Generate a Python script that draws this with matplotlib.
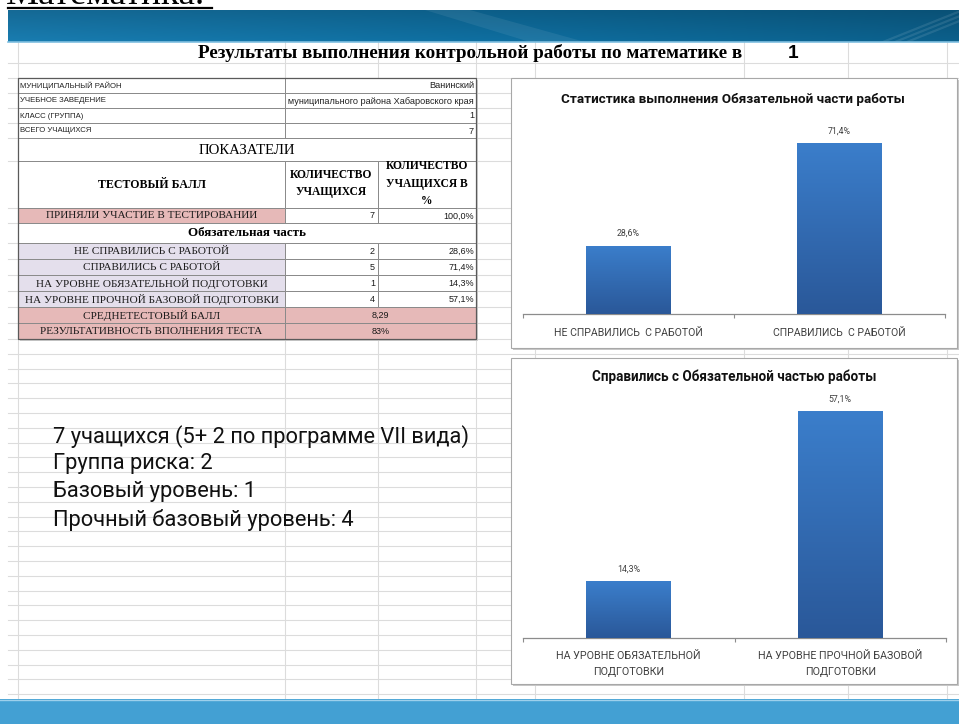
import numpy as np
import matplotlib
matplotlib.use('Agg')
import matplotlib.pyplot as plt
from matplotlib.patches import Rectangle, Polygon
from matplotlib.transforms import Bbox, TransformedBbox
from matplotlib.colors import LinearSegmentedColormap, to_rgb

# ---------------- data ----------------
slide_heading = "Математика."
report_title = "Результаты выполнения контрольной работы по математике в"
report_grade = "1"

info_labels = ["МУНИЦИПАЛЬНЫЙ РАЙОН", "УЧЕБНОЕ ЗАВЕДЕНИЕ", "КЛАСС (ГРУППА)", "ВСЕГО УЧАЩИХСЯ"]
info_values = ["Ванинский", "Ванинского муниципального района Хабаровского края", "1", "7"]

indicators_label = "ПОКАЗАТЕЛИ"
header_score = "ТЕСТОВЫЙ БАЛЛ"
header_count = "КОЛИЧЕСТВО\nУЧАЩИХСЯ"
header_pct = "КОЛИЧЕСТВО\nУЧАЩИХСЯ В\n%"

participated_label = "ПРИНЯЛИ УЧАСТИЕ В ТЕСТИРОВАНИИ"
participated_count = 7
participated_pct = 100.0

section_label = "Обязательная часть"
part_labels = ["НЕ СПРАВИЛИСЬ С РАБОТОЙ", "СПРАВИЛИСЬ С РАБОТОЙ",
               "НА УРОВНЕ ОБЯЗАТЕЛЬНОЙ ПОДГОТОВКИ", "НА УРОВНЕ ПРОЧНОЙ БАЗОВОЙ ПОДГОТОВКИ"]
part_counts = [2, 5, 1, 4]
part_pcts = [28.6, 71.4, 14.3, 57.1]

avg_label = "СРЕДНЕТЕСТОВЫЙ БАЛЛ"
avg_value = "8,29"
eff_label = "РЕЗУЛЬТАТИВНОСТЬ ВПОЛНЕНИЯ ТЕСТА"
eff_value = "83%"

chart1_title = "Статистика выполнения Обязательной части работы"
chart1_cats = ["НЕ СПРАВИЛИСЬ  С РАБОТОЙ", "СПРАВИЛИСЬ  С РАБОТОЙ"]
chart1_vals = [28.6, 71.4]

chart2_title = "Справились с Обязательной частью работы"
chart2_cats = ["НА УРОВНЕ ОБЯЗАТЕЛЬНОЙ\nПОДГОТОВКИ", "НА УРОВНЕ ПРОЧНОЙ БАЗОВОЙ\nПОДГОТОВКИ"]
chart2_vals = [14.3, 57.1]

notes = ["7 учащихся (5+ 2 по программе VII вида)", "Группа риска: 2",
         "Базовый уровень: 1", "Прочный базовый уровень: 4"]


def pct(v):
    return f"{v:.1f}%".replace('.', ',')


# ---------------- figure ----------------
W, H = 959, 724
fig = plt.figure(figsize=(W / 100, H / 100), dpi=100)
fig.patch.set_facecolor('white')
bg = fig.add_axes([0, 0, 1, 1])
bg.set_xlim(0, W)
bg.set_ylim(H, 0)
bg.axis('off')
renderer = fig.canvas.get_renderer()

SERIF = ['Liberation Serif', 'DejaVu Serif']
SANS = ['Liberation Sans', 'DejaVu Sans']
CAL = ['Roboto', 'Open Sans', 'DejaVu Sans']


def fit(t, width):
    bb = t.get_window_extent(renderer)
    t.set_fontsize(t.get_fontsize() * width / bb.width)
    return t.get_fontsize()


# spreadsheet grid
vlines = [18, 285, 378, 476, 535, 744, 848, 947]
hlines = [63, 78, 93, 108, 123, 138, 161, 208, 223, 243, 259, 275, 291, 307, 323, 339]
y = 339
while y < 699:
    y += 14.8
    if y < 699:
        hlines.append(y)
for x in vlines:
    bg.plot([x, x], [42, 699], color='#dcdcdc', lw=0.8, zorder=0)
for yy in hlines:
    bg.plot([8, W], [yy, yy], color='#dcdcdc', lw=0.8, zorder=0)

# top band
nx, ny = 400, 40
tx = np.linspace(0, 1, nx)[None, :]
ty = np.linspace(0, 1, ny)[:, None]
cL, cM, cR = np.array(to_rgb('#1878aa')), np.array(to_rgb('#0e6b9b')), np.array(to_rgb('#0b5c86'))
col = np.where((tx < 0.5)[..., None], cL + (cM - cL) * (tx / 0.5)[..., None],
               cM + (cR - cM) * ((tx - 0.5) / 0.5)[..., None])
col = np.broadcast_to(col, (ny, nx, 3)).copy()
col = col * (0.88 + 0.16 * ty)[..., None]
col = np.clip(col, 0, 1)
bg.imshow(col, extent=(8, W, 42, 10), aspect='auto', zorder=2, interpolation='bilinear')
bg.add_patch(Polygon([[425, 10], [470, 10], [585, 42], [530, 42]], closed=True,
                     facecolor='white', alpha=0.07, lw=0, zorder=3))
for dx in [0, 12, 24]:
    bg.add_patch(Polygon([[880 + dx, 42], [886 + dx, 42], [966 + dx, 10], [960 + dx, 10]], closed=True,
                         facecolor='white', alpha=0.10, lw=0, zorder=3))
bg.plot([8, W], [41.5, 41.5], color='#7fbfe0', lw=1.2, zorder=4)

# bottom band
bg.add_patch(Rectangle((0, 699), W, 25, facecolor='#43a0d3', lw=0, zorder=2))
bg.plot([0, W], [699.5, 699.5], color='#9dd0ec', lw=1.0, zorder=3)

# heading (cut off at the top edge, as in the slide)
bg.set_xlim(0, W)
bg.set_ylim(H, 0)
th = bg.text(6, 4, slide_heading, family=SERIF, fontsize=20, va='baseline', ha='left', color='black', zorder=5)
fit(th, 200)
bg.plot([8, 212], [7.5, 7.5], color='black', lw=1.6, zorder=5)

# report title
tt = bg.text(198, 53, report_title, family=SERIF, weight='bold', fontsize=11, va='center', ha='left', zorder=5)
fit(tt, 542)
bg.text(793, 53, report_grade, family=SANS, weight='bold', fontsize=tt.get_fontsize(), va='center', ha='center', zorder=5)

# ---------------- table ----------------
L, C1, C2, R = 18, 285, 378, 476
rows = [78, 93, 108, 123, 138, 161, 208, 223, 243, 259, 275, 291, 307, 323, 339]
PINK, LAV, EDGE = '#e6b9b8', '#e4dfec', '#8a8a8a'


def cell(x0, x1, r, fc='white'):
    y0, y1 = rows[r], rows[r + 1]
    bg.add_patch(Rectangle((x0, y0), x1 - x0, y1 - y0, facecolor=fc, edgecolor=EDGE, lw=0.7, zorder=4))


def cy(r):
    return (rows[r] + rows[r + 1]) / 2


bg.add_patch(Rectangle((L + 2, rows[0] + 2), R - L, rows[-1] - rows[0], facecolor='#d0d0d0', lw=0, zorder=3))

# info rows
sans_fs = None
for i, (lab, val) in enumerate(zip(info_labels, info_values)):
    cell(L, C1, i)
    cell(C1, R, i)
    t = bg.text(L + 2, cy(i) + 0.5, lab, family=SANS, fontsize=6, va='center', ha='left', color='#222222', zorder=6)
    if sans_fs is None:
        sans_fs = fit(t, 103)
    t.set_fontsize(sans_fs)
    tv = bg.text(R - 2, cy(i) + 0.5, val, family=SANS, fontsize=sans_fs * 1.17, va='center', ha='right',
                 color='#222222', zorder=6)
    tv.set_clip_box(TransformedBbox(Bbox.from_extents(C1 + 1, rows[i], R, rows[i + 1]), bg.transData))
    tv.set_clip_on(True)

cell(L, R, 4)
ti = bg.text((L + R) / 2, cy(4) + 1, indicators_label, family=SERIF, fontsize=8, va='center', ha='center', zorder=6)
fit(ti, 97)

cell(L, C1, 5)
cell(C1, C2, 5)
cell(C2, R, 5)
hs = bg.text((L + C1) / 2, cy(5), header_score, family=SERIF, weight='bold', fontsize=6, va='center', ha='center', zorder=6)
hfs = fit(hs, 108)
bg.text((C1 + C2) / 2, cy(5) - 1, header_count, family=SERIF, weight='bold', fontsize=hfs * 0.97, va='center',
        ha='center', linespacing=1.6, zorder=6)
bg.text((C2 + R) / 2, cy(5) - 1, header_pct, family=SERIF, weight='bold', fontsize=hfs * 0.97, va='center',
        ha='center', linespacing=1.6, zorder=6)

lab_fs = None


def label_text(r, s):
    global lab_fs
    t = bg.text((L + C1) / 2, cy(r) + 0.5, s, family=SERIF, fontsize=6, va='center', ha='center',
                color='#1a1a1a', zorder=6)
    if lab_fs is None:
        lab_fs = fit(t, 216)
    t.set_fontsize(lab_fs)


def val_text(x, r, s, ha='right'):
    bg.text(x, cy(r) + 0.5, s, family=SANS, fontsize=sans_fs * 1.15, va='center', ha=ha, color='#1a1a1a', zorder=6)


cell(L, C1, 6, PINK)
cell(C1, C2, 6)
cell(C2, R, 6)
label_text(6, participated_label)
val_text(C2 - 3, 6, str(participated_count))
val_text(R - 2, 6, pct(participated_pct))

cell(L, R, 7)
ts = bg.text((L + R) / 2, cy(7), section_label, family=SERIF, weight='bold', fontsize=8, va='center', ha='center', zorder=6)
fit(ts, 118)

for k, (lab, cnt, p) in enumerate(zip(part_labels, part_counts, part_pcts)):
    r = 8 + k
    cell(L, C1, r, LAV)
    cell(C1, C2, r)
    cell(C2, R, r)
    label_text(r, lab)
    val_text(C2 - 3, r, str(cnt))
    val_text(R - 2, r, pct(p))

for r, lab, v in [(12, avg_label, avg_value), (13, eff_label, eff_value)]:
    cell(L, C1, r, PINK)
    cell(C1, R, r, PINK)
    label_text(r, lab)
    val_text((C1 + R) / 2, r, v, ha='center')

bg.add_patch(Rectangle((L, rows[0]), R - L, rows[-1] - rows[0], facecolor='none', edgecolor='#5a5a5a', lw=0.9, zorder=7))

# ---------------- notes ----------------
nt = bg.text(53, 437, notes[0], family=CAL, fontsize=14, va='center', ha='left', color='#111111', zorder=6)
nfs = fit(nt, 419)
for yy, s in zip([464, 492, 520], notes[1:]):
    bg.text(53, yy, s, family=CAL, fontsize=nfs, va='center', ha='left', color='#111111', zorder=6)

# ---------------- chart boxes ----------------
for (x0, y0, x1, y1) in [(511, 78, 957, 348), (511, 358, 957, 684)]:
    bg.add_patch(Rectangle((x0 + 2, y0 + 2), x1 - x0, y1 - y0, facecolor='#c8c8c8', lw=0, zorder=4))
    bg.add_patch(Rectangle((x0, y0), x1 - x0, y1 - y0, facecolor='white', edgecolor='#a8a8a8', lw=0.8, zorder=5))

t1 = bg.text(733, 100, chart1_title, family=CAL, weight='bold', fontsize=8, va='center', ha='center', color='#111111', zorder=6)
fit(t1, 343)
t2 = bg.text(734, 377, chart2_title, family=CAL, weight='bold', fontsize=8, va='center', ha='center', color='#111111', zorder=6)
fit(t2, 285)

cmap = LinearSegmentedColormap.from_list('barg', ['#2a5899', '#3b7ecb'])
grad = np.linspace(0, 1, 128).reshape(-1, 1)


def bar_chart(ax, cats, vals, ymax, cat_width, pad, linesp):
    ax.set_zorder(10)
    ax.patch.set_alpha(0)
    x = np.arange(len(vals))
    bars = ax.bar(x, vals, width=0.4, color='#3370b8', zorder=2)
    for b in bars:
        x0, w, h = b.get_x(), b.get_width(), b.get_height()
        im = ax.imshow(grad, extent=(x0, x0 + w, 0, h), origin='lower', cmap=cmap, aspect='auto', zorder=3)
        im.set_clip_path(b)
        ax.annotate(pct(h), (b.get_x() + w / 2, h), xytext=(0, 8.6), textcoords='offset points',
                    ha='center', va='center', fontsize=6.3, family=CAL, color='#404040')
    ax.set_xlim(-0.5, len(vals) - 0.5)
    ax.set_ylim(0, ymax)
    for s in ['top', 'left', 'right']:
        ax.spines[s].set_visible(False)
    ax.spines['bottom'].set_color('#8c8c8c')
    ax.spines['bottom'].set_linewidth(0.9)
    ax.set_yticks([])
    ax.set_xticks(x)
    ax.set_xticklabels(cats, family=CAL, color='#404040', fontsize=6, linespacing=linesp)
    ax.set_xticks(np.arange(len(vals) + 1) - 0.5, minor=True)
    ax.tick_params(axis='x', which='major', length=0, pad=pad)
    ax.tick_params(axis='x', which='minor', length=3, color='#8c8c8c', width=0.8, direction='out')
    fig.canvas.draw()
    lab = ax.get_xticklabels()[0]
    bb = lab.get_window_extent(renderer)
    fs = 6 * cat_width / bb.width
    for l in ax.get_xticklabels():
        l.set_fontsize(fs)
    return bars


ax1 = fig.add_axes([523 / W, (H - 314) / H, 422 / W, 191.6 / H])
bar_chart(ax1, chart1_cats, chart1_vals, 80, 150, 10.0, 1.2)

ax2 = fig.add_axes([523 / W, (H - 638) / H, 423 / W, 238.5 / H])
bar_chart(ax2, chart2_cats, chart2_vals, 60, 146, 9.4, 1.75)

fig.savefig('out.png', dpi=100, facecolor='white')
